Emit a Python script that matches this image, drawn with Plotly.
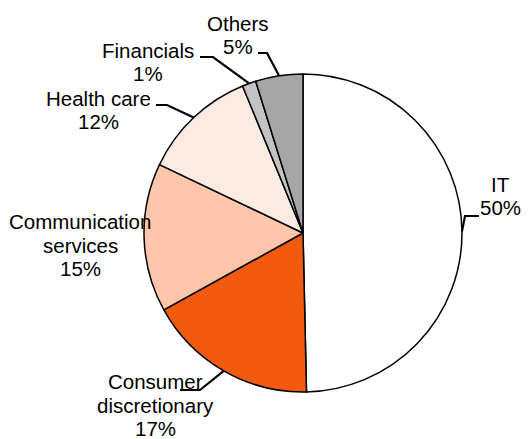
import math
import plotly.graph_objects as go

# ---- data ----
sectors = ["IT", "Consumer<br>discretionary", "Communication<br>services",
           "Health care", "Financials", "Others"]
weights = [49.6, 17.3, 15.1, 11.7, 1.4, 4.8]
colors = ["#FFFFFF", "#F25A0E", "#FFC6AB", "#FDEAE0", "#C3C3C3", "#A6A6A6"]

# ---- layout geometry (pixels) ----
W, H = 530, 439
CX, CY, R = 303, 233, 159
LINE_H = 23.5
# label block centres and leader elbow / end points (styling)
label_pos = [(500, 196), (155, 405), (80, 245), (98, 110), (148, 62), (238, 35)]
elbows = [((465, 216), (479, 216)), ((200, 390), (180, 390)), None,
          ((167, 105), (156, 105)), ((213, 57), (200, 57)), ((267, 53), (258, 53))]


def px(x):
    return x / W


def py(y):
    return 1 - y / H


fig = go.Figure(go.Pie(
    labels=sectors, values=weights, sort=False, direction="clockwise",
    rotation=0, marker=dict(colors=colors, line=dict(color="black", width=1.5)),
    textinfo="none", hoverinfo="label+percent", showlegend=False,
    domain=dict(x=[px(CX - R), px(CX + R)], y=[py(CY + R), py(CY - R)]),
))

total = sum(weights)
annotations = []
shapes = []
cum = 0.0
for name, v, lp, el in zip(sectors, weights, label_pos, elbows):
    mid = (cum + v / 2) / total * 2 * math.pi
    cum += v
    pct = round(v / total * 100)
    lines = name.split("<br>") + [f"{pct}%"]
    n = len(lines)
    for i, t in enumerate(lines):
        yy = lp[1] + (i - (n - 1) / 2) * LINE_H
        annotations.append(dict(
            x=px(lp[0]), y=py(yy), xref="paper", yref="paper",
            text=t, showarrow=False, xanchor="center", yanchor="middle",
            font=dict(family="Liberation Sans, Arial", size=20.5, color="#000000")))
    if el is not None:
        ex = CX + R * math.sin(mid)
        ey = CY - R * math.cos(mid)
        (bx, by), (tx, ty) = el
        path = f"M {px(ex)},{py(ey)} L {px(bx)},{py(by)} L {px(tx)},{py(ty)}"
        shapes.append(dict(type="path", path=path, xref="paper", yref="paper",
                           line=dict(color="black", width=2.2), layer="above"))

fig.update_layout(
    width=W, height=H, margin=dict(l=0, r=0, t=0, b=0),
    paper_bgcolor="white", plot_bgcolor="white",
    annotations=annotations, shapes=shapes,
)

fig.write_html("out.html", config={"displayModeBar": False},
               post_script="document.body.style.margin='0';")
